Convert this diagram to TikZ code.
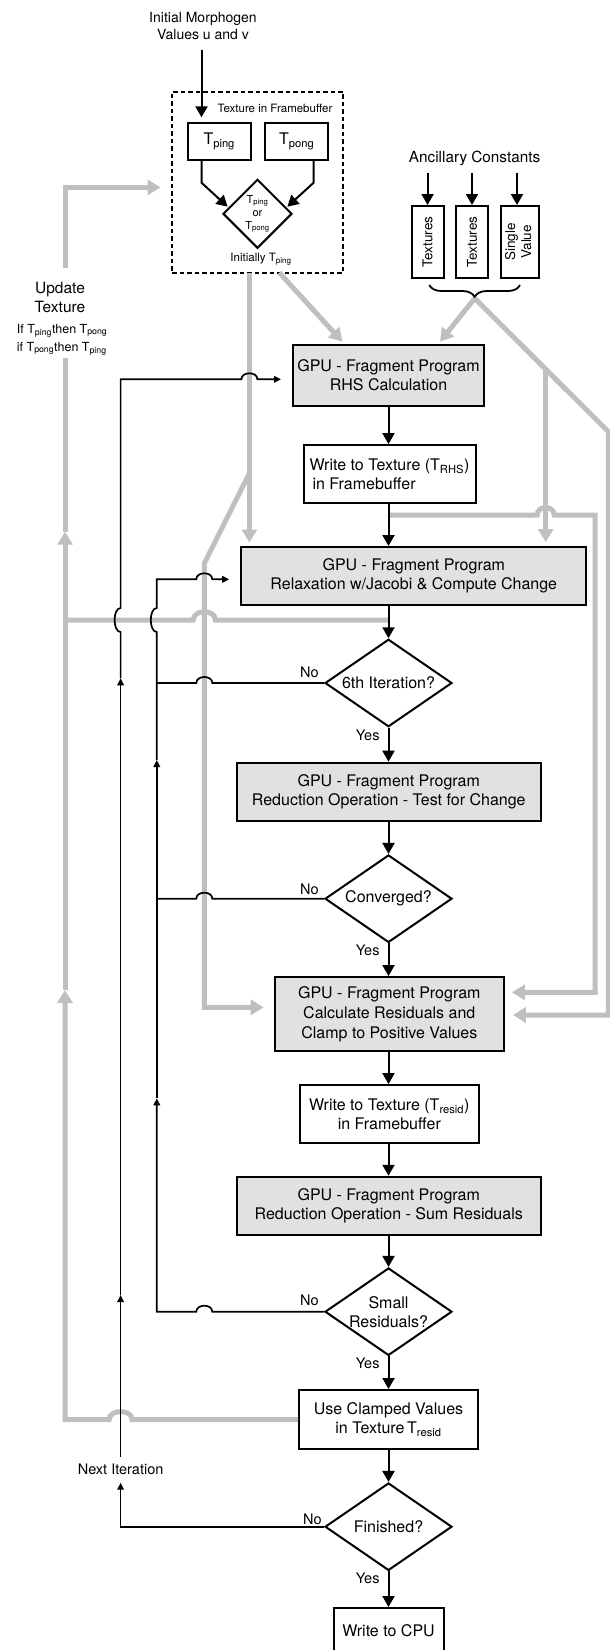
\documentclass[tikz,border=0pt]{standalone}
\usepackage{fontspec}
\setmainfont{TeX Gyre Heros}
\usetikzlibrary{shapes.geometric,arrows.meta,calc,decorations.pathreplacing}
\definecolor{gline}{RGB}{190,191,193}
\definecolor{bfill}{RGB}{224,225,227}
\newcommand\fsz[2]{\fontsize{#1}{#2}\selectfont}
\begin{document}
\begin{tikzpicture}[x=1pt,y=-1pt,
  box/.style={draw,line width=2pt,inner sep=0pt,align=center,font=\fsz{16}{19}},
  gbox/.style={box,fill=bfill},
  dia/.style={draw,line width=2pt,diamond,aspect=1.45,inner sep=0pt,minimum width=127pt,minimum height=87.5pt,align=center,font=\fsz{16}{19}},
  blk/.style={line width=2pt,-{Triangle[width=12pt,length=11pt]}},
  lp/.style={line width=1.7pt},
  lparr/.style={lp,-{Triangle[width=6.5pt,length=7pt]}},
  gl/.style={draw=gline,line width=5pt},
  glarr/.style={gl,-{Triangle[width=15pt,length=13pt]}},
  lbl/.style={font=\fsz{14.5}{17},inner sep=0pt},
  small/.style={font=\fsz{11.5}{14},inner sep=0pt},
]
\useasboundingbox (0,0) rectangle (610,1650);

% ---------- nodes ----------
\node[font=\fsz{14}{17},align=center,inner sep=0pt] (init) at (203,26) {Initial Morphogen\\Values u and v};
\node[draw,dash pattern=on 4.5pt off 3pt,line width=2pt,minimum width=171pt,minimum height=181pt,inner sep=0pt] (fb) at (257.5,182.2) {};
\node[small] (fbl) at (275,108.3) {Texture in Framebuffer};
\node[box,minimum width=62.5pt,minimum height=36.7pt] (tping) at (219.25,141.65) {T\textsubscript{ping}};
\node[box,minimum width=63.4pt,minimum height=36.7pt] (tpong) at (296.7,141.65) {T\textsubscript{pong}};
\node[draw,line width=2pt,diamond,aspect=1,inner sep=0pt,minimum size=69pt,align=center,font=\fsz{11}{13}] (sel) at (257.5,213.8) {T\textsubscript{ping}\\or\\T\textsubscript{pong}};
\node[small] (initl) at (261,259.3) {Initially T\textsubscript{ping}};

\node[font=\fsz{15.3}{18},inner sep=0pt] (anc) at (474.6,158.7) {Ancillary Constants};
\node[box,minimum width=31.9pt,minimum height=71.7pt,font=\fsz{13.5}{16}] (tx1) at (427.55,241.85) {\rotatebox{90}{Textures}};
\node[box,minimum width=32pt,minimum height=71.7pt,font=\fsz{13.5}{16}] (tx2) at (472,241.85) {\rotatebox{90}{Textures}};
\node[box,minimum width=38pt,minimum height=71.7pt,font=\fsz{13.5}{16}] (sv) at (520,241.85) {\rotatebox{90}{\begin{tabular}{@{}c@{}}Single\\Value\end{tabular}}};

\node[font=\fsz{15.5}{19},align=center,inner sep=0pt] (upd) at (60,297.8) {Update\\Texture};
\node[font=\fsz{12.5}{18},align=left,inner sep=0pt,anchor=west] (updr) at (16.7,339.5) {If T\textsubscript{ping}then T\textsubscript{pong}\\if T\textsubscript{pong}then T\textsubscript{ping}};

\node[gbox,minimum width=191.8pt,minimum height=61pt] (rhs) at (388.5,375.5) {GPU - Fragment Program\\RHS Calculation};
\node[box,align=left,minimum width=172pt,minimum height=58.3pt] (trhs) at (389.5,474.2) {Write to Texture (T\textsubscript{RHS})\\\hspace*{3pt}in Framebuffer};
\node[gbox,minimum width=345.2pt,minimum height=58pt] (relax) at (413.8,576) {GPU - Fragment Program\\Relaxation w/Jacobi \& Compute Change};
\node[dia] (d6) at (388.5,683) {6th Iteration?};
\node[gbox,minimum width=304.3pt,minimum height=58pt] (redt) at (388.75,791.7) {GPU - Fragment Program\\Reduction Operation - Test for Change};
\node[dia] (dconv) at (388.5,898.7) {Converged?};
\node[gbox,minimum width=229.2pt,minimum height=73.7pt,font=\fsz{16}{20}] (calc) at (389.3,1013.9) {GPU - Fragment Program\\Calculate Residuals and\\Clamp to Positive Values};
\node[box,minimum width=178.6pt,minimum height=58.3pt] (tres) at (389.3,1114.2) {Write to Texture (T\textsubscript{resid})\\in Framebuffer};
\node[gbox,minimum width=304.3pt,minimum height=58.3pt] (reds) at (388.75,1205.9) {GPU - Fragment Program\\Reduction Operation - Sum Residuals};
\node[dia] (dsmall) at (388.5,1311.7) {Small\\Residuals?};
\node[box,minimum width=178.6pt,minimum height=59pt] (clamp) at (388.5,1419.5) {Use Clamped Values\\in Texture\,T\textsubscript{resid}};
\node[dia] (dfin) at (388.5,1526.7) {Finished?};
\node[box,minimum width=110pt,minimum height=46pt] (cpu) at (388.5,1631) {Write to CPU};

\node[lbl] (no1) at (309.3,672.7) {No};
\node[lbl] (yes1) at (367.7,735) {Yes};
\node[lbl] (no2) at (309.3,889.3) {No};
\node[lbl] (yes2) at (367.7,950) {Yes};
\node[lbl] (no3) at (309.3,1300.7) {No};
\node[lbl] (yes3) at (367.7,1363.3) {Yes};
\node[lbl] (no4) at (312.5,1519.3) {No};
\node[lbl] (yes4) at (367.7,1578.3) {Yes};
\node[lbl] (nexti) at (120.6,1469.3) {Next Iteration};

% ---------- brace ----------
\coordinate (bra) at (429.3,285);
\coordinate (brb) at (520,285);
\draw[line width=1.8pt,decorate,decoration={brace,mirror,amplitude=12pt}] (bra) -- (brb);
\coordinate (brtip) at (474.7,298.3);

% ---------- gray connectors ----------
\coordinate (fbA) at (249.4,272.7);
\coordinate (fbB) at (279.3,272.7);
\coordinate (split) at (249.4,473.3);
\draw[glarr,shorten >=3.5pt] (fbA) -- (fbA |- relax.north);
\coordinate (gL1) at (204.3,563.3);
\coordinate (gL2) at (204.3,1007.3);
\draw[glarr,shorten >=10pt] (split) -- (gL1) -- (gL2) -- (gL2 -| calc.west);
\coordinate (rhsIn1) at (342.4,341.7);
\coordinate (rhsIn2) at (440,341.7);
\draw[glarr] (fbB) -- (rhsIn1);
\draw[glarr] (brtip) -- (rhsIn2);
\coordinate (gR1) at (608.3,431.7);
\coordinate (gR2) at (608.3,1015);
\draw[glarr,shorten >=8pt] (brtip) -- (gR1) -- (gR2) -- (gR2 -| calc.east);
\coordinate (gV) at (545.7,369.3);
\draw[glarr,shorten >=4pt] (gV) -- (gV |- relax.north);
\coordinate (gT0) at (388.5,515);
\coordinate (gT1) at (595,515);
\coordinate (gT2) at (595,992.3);
\draw[glarr,shorten >=7pt] (gT0) -- (537.2,515) .. controls (537.2,505) and (554.2,505) .. (554.2,515) -- (gT1) -- (gT2) -- (gT2 -| calc.east);
\coordinate (gU0) at (388.5,620);
\coordinate (gU1) at (65,620);
\draw[gl] (gU0) -- (215.3,620) .. controls (215.3,609) and (193.3,609) .. (193.3,620) -- (gU1);
\coordinate (gB) at (65,1419.5);
\coordinate (gA1) at (65,990);
\coordinate (gA2) at (65,531.7);
\coordinate (gA3) at (65,358);
\draw[glarr] (clamp.west) -- (132,1419.5) .. controls (132,1409) and (109.2,1409) .. (109.2,1419.5) -- (gB) -- (gA1);
\draw[glarr] (gA1) -- (gA2);
\draw[gl] (gA2) -- (gA3);
\coordinate (gUp0) at (65,268.3);
\coordinate (gUp1) at (65,187.3);
\draw[glarr,shorten >=10.5pt] (gUp0) -- (gUp1) -- (gUp1 -| fb.west);

% ---------- black connectors (top) ----------
\coordinate (initOut) at (201.5,50);
\draw[blk,shorten >=5pt] (initOut) -- (initOut |- tping.north);
\coordinate (tp1) at (201.5,182.7);
\coordinate (tpE) at (227.6,206.7);
\draw[blk] (tp1 |- tping.south) -- (tp1) -- (tpE);
\coordinate (tq1) at (313.6,182.7);
\coordinate (tqE) at (287.4,206.7);
\draw[blk] (tq1 |- tpong.south) -- (tq1) -- (tqE);
\coordinate (ancTop) at (0,173.3);
\coordinate (svx) at (517,173.3);
\draw[blk] (tx1.north |- ancTop) -- (tx1.north);
\draw[blk] (tx2.north |- ancTop) -- (tx2.north);
\draw[blk] (svx) -- (svx |- sv.north);

% ---------- main flow ----------
\draw[blk] (rhs.south) -- (rhs.south |- trhs.north);
\draw[blk] (rhs.south |- trhs.south) -- (rhs.south |- relax.north);
\draw[blk] (rhs.south |- relax.south) -- (d6.north);
\draw[blk] (d6.south) -- (d6.south |- redt.north);
\draw[blk] (d6.south |- redt.south) -- (dconv.north);
\draw[blk] (dconv.south) -- (dconv.south |- calc.north);
\draw[blk] (dconv.south |- calc.south) -- (dconv.south |- tres.north);
\draw[blk] (dconv.south |- tres.south) -- (dconv.south |- reds.north);
\draw[blk] (dconv.south |- reds.south) -- (dsmall.north);
\draw[blk] (dsmall.south) -- (dsmall.south |- clamp.north);
\draw[blk] (dsmall.south |- clamp.south) -- (dfin.north);
\draw[blk] (dfin.south) -- (dfin.south |- cpu.north);

% ---------- loop A (next iteration) ----------
\coordinate (la0) at (120.6,1526.7);
\coordinate (la1) at (120.6,1482.7);
\draw[lparr] (dfin.west) -- (la0) -- (la1);
\coordinate (la2) at (120.6,1456.7);
\coordinate (la3) at (120.6,1295);
\coordinate (la4) at (120.6,678.3);
\coordinate (la5) at (120.6,379.3);
\draw[lparr] (la2) -- (la3);
\draw[lparr] (la3) -- (la4);
\draw[lparr,shorten >=10.6pt] (la4) -- (120.6,632) .. controls (112.6,632) and (112.6,608) .. (120.6,608) -- (la5) -- (241.4,379.3) .. controls (241.4,371.3) and (257.4,371.3) .. (257.4,379.3) -- (la5 -| rhs.west);

% ---------- loop B (relaxation) ----------
\coordinate (lb0) at (156.8,1311.7);
\coordinate (lb1) at (156.8,1098.3);
\coordinate (lb2) at (156.8,760);
\coordinate (lb3) at (156.8,579.3);
\draw[lparr] (dsmall.west) -- (212.3,1311.7) .. controls (212.3,1303.7) and (196.3,1303.7) .. (196.3,1311.7) -- (lb0) -- (lb1);
\draw[lparr] (lb1) -- (lb2);
\draw[lparr,shorten >=11pt] (lb2) -- (156.8,632) .. controls (148.8,632) and (148.8,608) .. (156.8,608) -- (lb3) -- (196.3,579.3) .. controls (196.3,571.3) and (212.3,571.3) .. (212.3,579.3) -- (lb3 -| relax.west);
\coordinate (lc6) at (156.8,683);
\coordinate (lcc) at (156.8,898.7);
\draw[lp] (d6.west) -- (212.3,683) .. controls (212.3,675) and (196.3,675) .. (196.3,683) -- (lc6);
\draw[lp] (dconv.west) -- (212.3,898.7) .. controls (212.3,890.7) and (196.3,890.7) .. (196.3,898.7) -- (lcc);
\end{tikzpicture}
\end{document}
